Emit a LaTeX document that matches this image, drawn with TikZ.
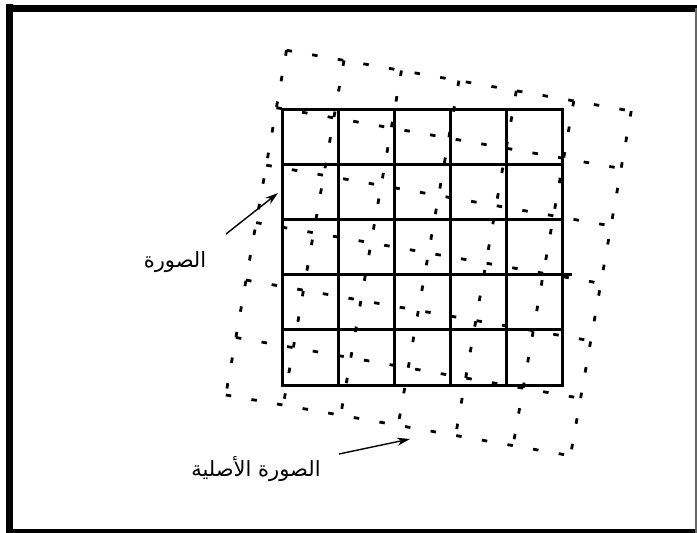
\documentclass[tikz,border=0pt]{standalone}
\usepackage{fontspec}
\usetikzlibrary{arrows.meta}
\newfontfamily\arabicfont[Script=Arabic]{DejaVu Sans}
\TeXXeTstate=1
\tikzset{
  frameline/.style={line width=7pt, black},
  dgrid/.style={line width=2.8pt, dash pattern=on 5.5pt off 20.5pt, black},
  sgrid/.style={line width=3pt, black, line cap=rect},
  arr/.style={line width=1.4pt, -{Stealth[length=13pt,width=8pt]}},
  lbl/.style={font=\arabicfont\fontsize{21}{24}\selectfont, inner sep=0pt}
}
\begin{document}
\begin{tikzpicture}[x=1pt,y=-1pt]
\useasboundingbox (0,0) rectangle (697,533);
\fill[white] (0,0) rectangle (697,533);
% frame
\draw[frameline] (9.5,4) -- (9.5,533);
\draw[frameline] (6,8.5) -- (697,8.5);
\draw[line width=5pt] (6,531.5) -- (697,531.5);
\draw[line width=2pt, black!60] (695.5,8) -- (695.5,533);
% rotated dashed grid (original image)
\begin{scope}[shift={(428.5,253)}, rotate=-10]
  \foreach \i in {0,...,6} {
    \draw[dgrid] ({-175+\i*350/6},-175) -- ({-175+\i*350/6},175);
    \draw[dgrid] (-175,{-175+\i*350/6}) -- (175,{-175+\i*350/6});
  }
\end{scope}
% solid grid (image)
\foreach \i in {0,...,5} {
  \draw[sgrid] ({282+\i*56},109) -- ({282+\i*56},385);
}
\foreach \i in {0,1,2,4,5} {
  \draw[sgrid] (282,{109+\i*55.2}) -- (562,{109+\i*55.2});
}
\draw[sgrid] (282,{109+3*55.2}) -- (570,{109+3*55.2});
% labels
\node[lbl] (img) at (175,262) {\beginR الصورة\endR};
\node[lbl] (orig) at (256,469) {\beginR الصورة الأصلية\endR};
\coordinate (a1s) at (226,234);
\coordinate (a1e) at (278,193);
\coordinate (a2s) at (339,454);
\coordinate (a2e) at (410,439);
\draw[arr] (a1s) -- (a1e);
\draw[arr] (a2s) -- (a2e);
\end{tikzpicture}
\end{document}
